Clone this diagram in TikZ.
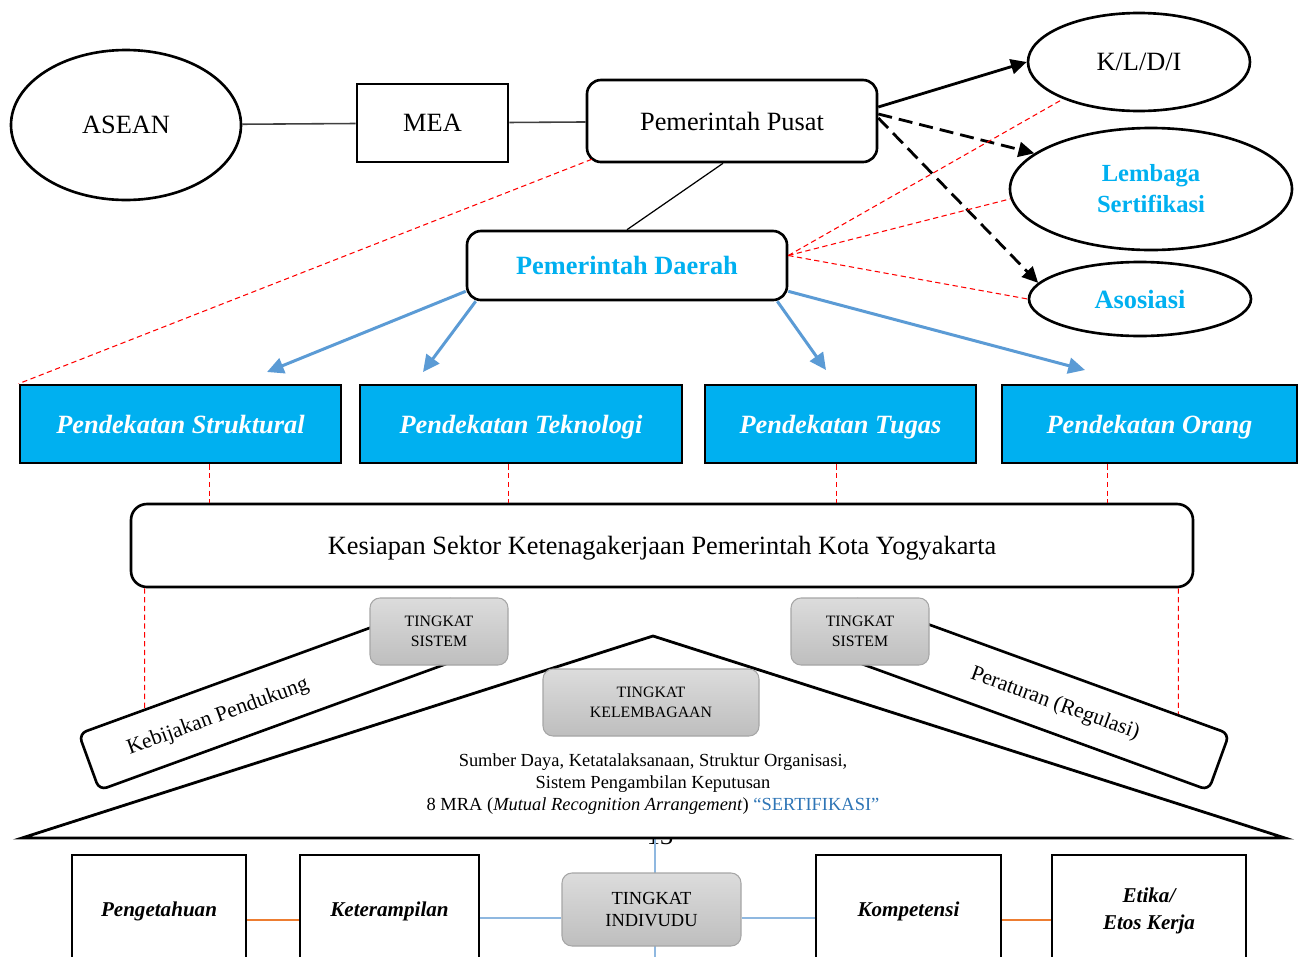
\documentclass[tikz,border=0pt]{standalone}
\usepackage{fontspec}
\setmainfont{Liberation Serif}
\usetikzlibrary{arrows.meta,shapes.geometric,calc}
\definecolor{cyanbox}{HTML}{00B0F0}
\definecolor{arrowblue}{HTML}{5B9BD5}
\definecolor{lineblue}{HTML}{8FB8E0}
\definecolor{sertblue}{HTML}{2E75B6}
\definecolor{linkorange}{HTML}{ED7D31}
\definecolor{greyedge}{HTML}{A6A6A6}
\definecolor{greytop}{HTML}{DCDCDC}
\definecolor{greybot}{HTML}{BEBEBE}
\def\PX{0.02cm}
\begin{document}
\begin{tikzpicture}[x=0.02cm,y=-0.02cm,
  every node/.style={inner sep=0pt},
  txt/.style={font=\fontsize{15}{18}\selectfont},
  oval/.style={ellipse,draw,line width=1.5pt,txt},
  plainbox/.style={rectangle,draw,line width=1.5pt,txt},
  roundbox/.style={rectangle,rounded corners=14*\PX,draw,line width=1.5pt,txt,text depth=0pt},
  approach/.style={rectangle,draw,line width=1.5pt,fill=cyanbox,text=white,text depth=0pt,
    font=\fontsize{15}{18}\selectfont\bfseries\itshape,minimum height=78*\PX},
  levelbox/.style={rectangle,rounded corners=10*\PX,draw=greyedge,line width=0.6pt,
    top color=greytop,bottom color=greybot,align=center,font=\fontsize{9}{11.3}\selectfont},
  band/.style={rectangle,rounded corners=8*\PX,draw,line width=1.5pt,fill=white,
    minimum width=400*\PX,minimum height=60*\PX},
  bandtext/.style={font=\fontsize{12.3}{14}\selectfont},
  skillbox/.style={rectangle,draw,line width=1.5pt,minimum height=112*\PX,align=center,
    font=\fontsize{12}{15.3}\selectfont\bfseries\itshape},
  redlink/.style={draw=red,line width=0.6pt,dash pattern=on 3pt off 2pt},
  greylink/.style={draw=black!75,line width=0.9pt},
  bluearrow/.style={draw=arrowblue,line width=1.7pt,-{Triangle[length=9.5pt,width=9pt]}},
  solidarrow/.style={draw,line width=1.6pt,-{Triangle[length=9pt,width=8.5pt]}},
  dasharrow/.style={draw,line width=1.6pt,dash pattern=on 8pt off 4pt,-{Triangle[length=9pt,width=8.5pt]}},
  orangelink/.style={draw=linkorange,line width=0.8pt},
  bluelink/.style={draw=lineblue,line width=0.9pt}
]
\path[use as bounding box] (0,0) rectangle (1303,957);
\clip (0,0) rectangle (1303,957);
\fill[white] (0,0) rectangle (1303,957);

% ---------- top row ----------
\node[oval,minimum width=230*\PX,minimum height=150*\PX] (asean) at (126,125) {ASEAN};
\node[plainbox,minimum width=151*\PX,minimum height=78*\PX] (mea) at (432.5,123) {MEA};
\node[roundbox,minimum width=290*\PX,minimum height=82*\PX] (pp) at (732,121) {Pemerintah Pusat};
\node[oval,minimum width=222*\PX,minimum height=98*\PX] (kldi) at (1139,62) {K/L/D/I};
\node[oval,minimum width=282*\PX,minimum height=122*\PX,align=center,text=cyanbox,
  font=\fontsize{14}{17.6}\selectfont\bfseries] (lsp) at (1151,189) {Lembaga\\Sertifikasi};
\node[oval,minimum width=222*\PX,minimum height=74*\PX,text=cyanbox,
  font=\fontsize{15}{18}\selectfont\bfseries] (aso) at (1140,299) {Asosiasi};
\node[roundbox,minimum width=320*\PX,minimum height=69*\PX,text=cyanbox,
  font=\fontsize{15}{18}\selectfont\bfseries] (pd) at (627,265.5) {Pemerintah Daerah};

% ---------- approaches ----------
\node[approach,minimum width=321*\PX] (s1) at (180.5,424) {Pendekatan Struktural};
\node[approach,minimum width=322*\PX] (s2) at (521,424) {Pendekatan Teknologi};
\node[approach,minimum width=271*\PX] (s3) at (840.5,424) {Pendekatan Tugas};
\node[approach,minimum width=295*\PX] (s4) at (1149.5,424) {Pendekatan Orang};

\node[roundbox,minimum width=1062*\PX,minimum height=83*\PX,rounded corners=16*\PX] (kes)
  at (662,545.5) {Kesiapan Sektor Ketenagakerjaan Pemerintah Kota Yogyakarta};

% ---------- house ----------
\node[font=\fontsize{15}{18}\selectfont,anchor=base] (pgnum) at (660,844) {13};
\coordinate (basemid) at (655,838);
\coordinate (basebot) at (655,965);
\draw[bluelink] (basemid) -- (basebot);
\filldraw[fill=white,line width=1.6pt] (22,838) -- (653,636) -- (1285,838) -- cycle;

\node[align=center,font=\fontsize{10.5}{12.5}\selectfont] (roofnote) at (653,784)
  {Sumber Daya, Ketatalaksanaan, Struktur Organisasi,\\
   Sistem Pengambilan Keputusan\\
   8 MRA (\textit{Mutual Recognition Arrangement}) \textcolor{sertblue}{“SERTIFIKASI”}};
\node[levelbox,minimum width=216*\PX,minimum height=67*\PX] (inst) at (651,702.5) {TINGKAT\\KELEMBAGAAN};

\node[band,rotate=20] (bandL) at (277,693.6) {};
\node[bandtext,rotate=20] (kebtext) at (218,717) {Kebijakan Pendukung};
\node[band,rotate=-20] (bandR) at (1031,693.6) {};
\node[bandtext,rotate=-20] (pertext) at (1055,704) {Peraturan (Regulasi)};

\node[levelbox,minimum width=138*\PX,minimum height=67*\PX] (sysL) at (439,631.5) {TINGKAT\\SISTEM};
\node[levelbox,minimum width=138*\PX,minimum height=67*\PX] (sysR) at (860,631.5) {TINGKAT\\SISTEM};

% ---------- individual level ----------
\node[skillbox,minimum width=174*\PX] (b1) at (159,911) {Pengetahuan};
\node[skillbox,minimum width=179*\PX] (b2) at (389.5,911) {Keterampilan};
\node[skillbox,minimum width=185*\PX] (b3) at (908.5,911) {Kompetensi};
\node[skillbox,minimum width=194*\PX] (b4) at (1149,911) {Etika/\\Etos Kerja};
\node[levelbox,minimum width=179*\PX,minimum height=73*\PX,font=\fontsize{10.5}{12.5}\selectfont]
  (indiv) at (651.5,909.5) {TINGKAT\\INDIVUDU};

\coordinate (orow) at (0,920);
\coordinate (brow) at (0,918);
\draw[orangelink] (b1.east |- orow) -- (b2.west |- orow);
\draw[bluelink] (b2.east |- brow) -- (indiv.west |- brow);
\draw[bluelink] (indiv.east |- brow) -- (b3.west |- brow);
\draw[orangelink] (b3.east |- orow) -- (b4.west |- orow);

% ---------- top connectors ----------
\draw[greylink] (asean) -- (mea);
\draw[greylink] (mea) -- (pp);
\draw[line width=0.7pt] ($(pp.south)+(-9,0)$) -- (pd.north);
\draw[solidarrow] ($(pp.east)+(0,-14)$) -- (kldi.west);
\draw[dasharrow] ($(pp.east)+(0,-7)$) -- (lsp.163);
\draw[dasharrow] ($(pp.east)+(0,-3)$) -- (aso.171);

\draw[redlink] ($(pp.south west)+(6,-4)$) -- (s1.north west);
\draw[redlink] ($(pd.east)+(0,-10)$) -- (kldi.206);
\draw[redlink] ($(pd.east)+(0,-10)$) -- (lsp.184);
\draw[redlink] ($(pd.east)+(0,-10)$) -- (aso.west);

\coordinate (t1) at (267,372);
\coordinate (t2) at (423,372);
\coordinate (t3) at (826,370);
\coordinate (t4) at (1085,370);
\draw[bluearrow] ($(pd.south west)+(0,-10)$) -- (t1);
\draw[bluearrow] ($(pd.south west)+(10,0)$) -- (t2);
\draw[bluearrow] ($(pd.south east)+(-11,0)$) -- (t3);
\draw[bluearrow] ($(pd.south east)+(0,-10)$) -- (t4);

% ---------- links to the readiness box ----------
\coordinate (r1) at ($(s1.south west)+(191,0)$);
\coordinate (r2) at ($(s2.south west)+(150,0)$);
\coordinate (r3) at ($(s3.south west)+(133,0)$);
\coordinate (r4) at ($(s4.south west)+(107,0)$);
\draw[redlink] (r1) -- (r1 |- kes.north);
\draw[redlink] (r2) -- (r2 |- kes.north);
\draw[redlink] (r3) -- (r3 |- kes.north);
\draw[redlink] (r4) -- (r4 |- kes.north);

\coordinate (k1) at ($(kes.south west)+(15,0)$);
\coordinate (k1b) at ($(k1)+(0,200)$);
\coordinate (k2) at ($(kes.south east)+(-16,0)$);
\coordinate (k2b) at ($(k2)+(0,200)$);
\draw[redlink] (k1) -- (intersection of k1--k1b and bandL.north west--bandL.north east);
\draw[redlink] (k2) -- (intersection of k2--k2b and bandR.north west--bandR.north east);
\end{tikzpicture}
\end{document}
